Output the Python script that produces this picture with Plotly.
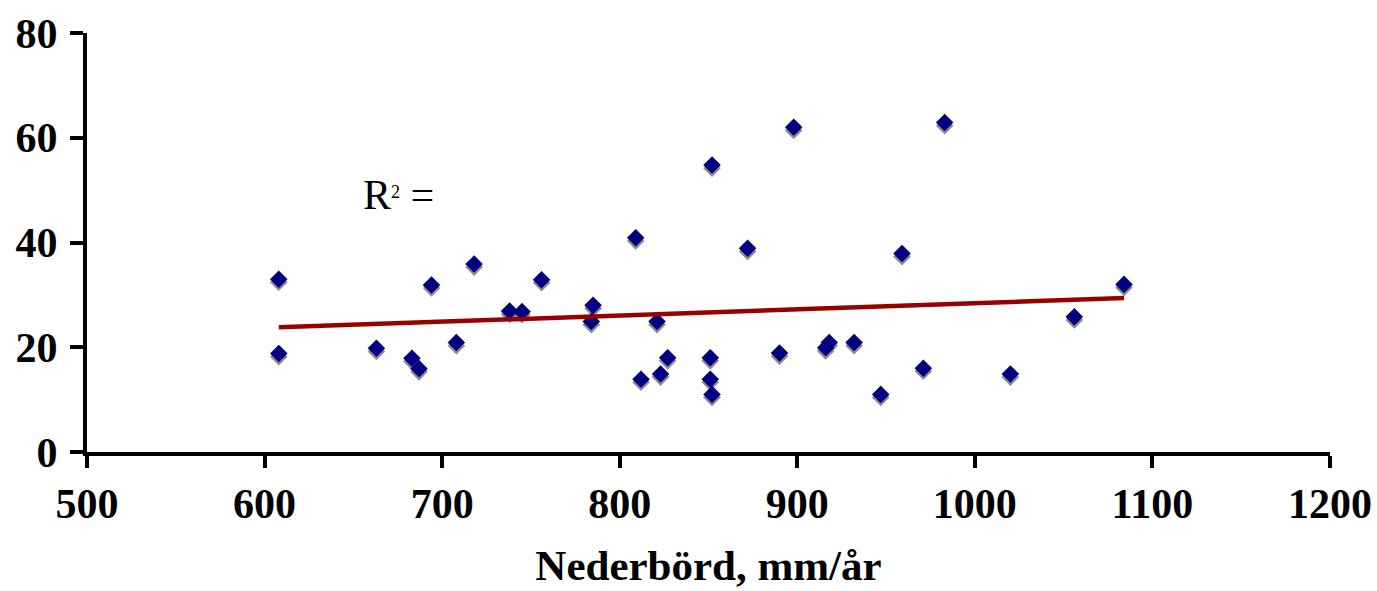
import plotly.graph_objects as go

# Data
precip = [608, 608, 663, 683, 687, 694, 708, 718, 738, 745, 756, 784, 785,
          809, 812, 821, 823, 827, 851, 851, 852, 852, 872, 890, 898, 916,
          918, 932, 947, 959, 971, 983, 1020, 1056, 1084]
values = [33, 18.8, 19.8, 17.9, 15.9, 31.9, 20.9, 35.9, 26.9, 26.8, 32.9, 24.9, 28.0,
          40.9, 13.9, 24.9, 14.9, 18.0, 18.0, 13.9, 11.0, 54.8, 38.9, 18.9, 62.0, 19.9,
          20.9, 20.9, 11.0, 37.9, 16.0, 62.9, 14.9, 25.8, 32.0]
trend_x = [608, 1084]
trend_y = [23.8, 29.4]

x_ticks = [500, 600, 700, 800, 900, 1000, 1100, 1200]
y_ticks = [0, 20, 40, 60, 80]

FONT = "Liberation Serif"
shadow_dy = 0.6  # shadow offset (style), in y data units

fig = go.Figure()
fig.add_trace(go.Scatter(
    x=precip, y=[v - shadow_dy for v in values], mode="markers",
    marker=dict(symbol="diamond", size=13.5, color="#8c8c8c", line=dict(width=0)),
    hoverinfo="skip", showlegend=False))
fig.add_trace(go.Scatter(
    x=precip, y=values, mode="markers",
    marker=dict(symbol="diamond", size=13.5, color="#000080", line=dict(width=0)),
    showlegend=False))
fig.add_trace(go.Scatter(
    x=trend_x, y=trend_y, mode="lines",
    line=dict(color="#990000", width=4.5), showlegend=False))

fig.add_annotation(
    x=(398 - 87) / (1330 - 87), y=(452 - 195) / (452 - 33),
    xref="x domain", yref="y domain", xanchor="center", yanchor="middle",
    text="R<span style='font-size:26px'><sup>2</sup></span> =", showarrow=False,
    font=dict(family=FONT, size=42, color="black"))

fig.update_layout(
    width=1377, height=591,
    margin=dict(l=87, r=47, t=33, b=139, pad=0, autoexpand=False),
    paper_bgcolor="white", plot_bgcolor="white",
    font=dict(family=FONT, color="black"),
    xaxis=dict(
        range=[500, 1200], tickvals=x_ticks, ticktext=[str(t) for t in x_ticks],
        showline=True, linecolor="black", linewidth=4,
        ticks="outside", ticklen=12, tickwidth=4, tickcolor="black",
        showgrid=False, zeroline=False, automargin=False,
        tickfont=dict(family=FONT, size=42, color="black", weight="bold"),
        title=dict(text="Nederbörd, mm/år",
                   font=dict(family=FONT, size=43, color="black", weight="bold"), standoff=24),
    ),
    yaxis=dict(
        range=[0, 80], tickvals=y_ticks, ticktext=[str(t) for t in y_ticks],
        showline=True, linecolor="black", linewidth=4,
        ticks="outside", ticklen=13, tickwidth=4, tickcolor="black",
        showgrid=False, zeroline=False, automargin=False, ticklabelstandoff=4,
        tickfont=dict(family=FONT, size=42, color="black", weight="bold"),
    ),
)

fig.write_html("out.html")
